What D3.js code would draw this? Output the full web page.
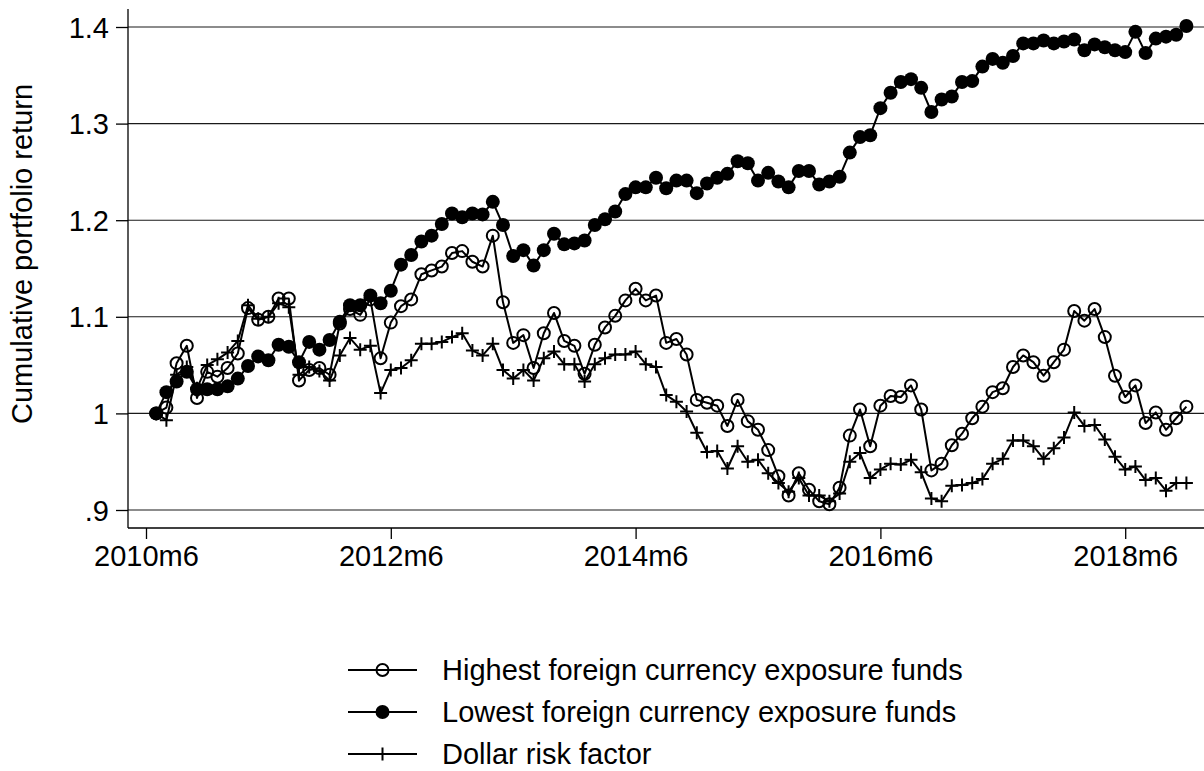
<!DOCTYPE html>
<html><head><meta charset="utf-8">
<script src="https://cdn.jsdelivr.net/npm/d3@7"></script>
<style>
html,body{margin:0;padding:0;background:#fff;}
svg{display:block;}
text{font-family:"Liberation Sans",Arial,sans-serif;fill:#000;}
</style></head>
<body><svg id="chart" width="1204" height="771"></svg>
<script>
// months since 2010m6 (1 = 2010m7 ... 102 = 2018m12)
const startMonth = 1, nMonths = 102;
const months = d3.range(startMonth, startMonth + nMonths);
const xTickMonths = [0, 24, 48, 72, 96];
const xTickLabels = ["2010m6", "2012m6", "2014m6", "2016m6", "2018m6"];
const yTicks = [0.9, 1.0, 1.1, 1.2, 1.3, 1.4];
const yTickLabels = [".9", "1", "1.1", "1.2", "1.3", "1.4"];
const seriesNames = ["Highest foreign currency exposure funds", "Lowest foreign currency exposure funds", "Dollar risk factor"];

const highest = [1.000,1.006,1.052,1.070,1.016,1.043,1.038,1.047,1.062,1.109,
1.097,1.100,1.119,1.119,1.034,1.045,1.047,1.040,1.093,1.108,
1.102,1.118,1.057,1.094,1.111,1.118,1.144,1.148,1.152,1.166,
1.168,1.157,1.152,1.184,1.115,1.073,1.081,1.047,1.083,1.104,
1.075,1.070,1.041,1.071,1.089,1.101,1.117,1.129,1.117,1.122,
1.073,1.077,1.061,1.014,1.011,1.008,0.987,1.014,0.992,0.983,
0.962,0.935,0.915,0.938,0.921,0.909,0.906,0.923,0.977,1.004,
0.966,1.008,1.018,1.017,1.029,1.004,0.941,0.948,0.967,0.979,
0.995,1.007,1.022,1.026,1.048,1.060,1.053,1.039,1.053,1.066,
1.106,1.096,1.108,1.079,1.039,1.017,1.029,0.990,1.001,0.983,
0.995,1.007];
const lowest = [1.000,1.022,1.033,1.043,1.025,1.025,1.025,1.028,1.036,1.049,
1.059,1.055,1.071,1.069,1.053,1.074,1.066,1.076,1.095,1.112,
1.112,1.122,1.114,1.127,1.154,1.164,1.178,1.184,1.196,1.207,
1.203,1.207,1.206,1.219,1.195,1.163,1.169,1.153,1.169,1.186,
1.175,1.176,1.179,1.195,1.201,1.209,1.227,1.234,1.234,1.244,
1.233,1.241,1.241,1.228,1.238,1.244,1.248,1.261,1.259,1.241,
1.249,1.240,1.234,1.251,1.251,1.237,1.240,1.245,1.270,1.286,
1.288,1.316,1.332,1.343,1.346,1.337,1.312,1.325,1.328,1.343,
1.344,1.359,1.367,1.363,1.370,1.383,1.383,1.386,1.383,1.385,
1.387,1.376,1.382,1.379,1.376,1.374,1.395,1.373,1.388,1.390,
1.392,1.401];
const dollar = [1.000,0.993,1.040,1.048,1.026,1.050,1.056,1.063,1.075,1.112,
1.098,1.100,1.114,1.110,1.040,1.048,1.044,1.034,1.060,1.078,
1.066,1.070,1.021,1.045,1.047,1.055,1.072,1.072,1.074,1.079,
1.083,1.065,1.060,1.072,1.045,1.036,1.045,1.034,1.057,1.064,
1.051,1.051,1.033,1.051,1.057,1.061,1.061,1.064,1.051,1.048,
1.019,1.012,1.002,0.980,0.960,0.961,0.943,0.966,0.950,0.952,
0.938,0.928,0.919,0.933,0.915,0.915,0.909,0.917,0.950,0.959,
0.933,0.942,0.948,0.947,0.952,0.939,0.912,0.909,0.925,0.926,
0.928,0.932,0.948,0.953,0.972,0.972,0.966,0.953,0.964,0.975,
1.001,0.987,0.988,0.973,0.955,0.942,0.945,0.931,0.933,0.920,
0.928,0.928];

const svg = d3.select("#chart");
svg.append("rect").attr("width",1204).attr("height",771).attr("fill","#fff");

const plotL = 128, plotR = 1204, plotT = 9, plotB = 528;
const FS = 29;
const x = d3.scaleLinear().domain([0, 96]).range([146, 1125.2]);
const y = d3.scaleLinear().domain([0.9, 1.4]).range([510, 27]);

// gridlines
svg.append("g").selectAll("line").data(yTicks).join("line")
  .attr("x1", plotL).attr("x2", plotR)
  .attr("y1", d => y(d)).attr("y2", d => y(d))
  .attr("stroke", "#1a1a1a").attr("stroke-width", 1.1);

// y axis
const yAxis = d3.axisLeft(y).tickValues(yTicks).tickSize(12).tickPadding(7)
  .tickFormat((d,i) => yTickLabels[i]);
const gy = svg.append("g").attr("transform", `translate(${plotL},0)`).call(yAxis);
gy.select(".domain").remove();
gy.selectAll(".tick line").attr("stroke","#000").attr("stroke-width",1.3);
gy.selectAll(".tick text").attr("font-size", FS).attr("fill","#000")
  .attr("font-family","Liberation Sans, Arial, sans-serif").attr("dy","0.35em");
svg.append("line").attr("x1",plotL).attr("x2",plotL).attr("y1",plotT).attr("y2",plotB)
  .attr("stroke","#000").attr("stroke-width",1.3);

// x axis
const xAxis = d3.axisBottom(x).tickValues(xTickMonths).tickSize(11).tickPadding(6)
  .tickFormat((d,i) => xTickLabels[i]);
const gx = svg.append("g").attr("transform", `translate(0,${plotB})`).call(xAxis);
gx.select(".domain").remove();
gx.selectAll(".tick line").attr("stroke","#000").attr("stroke-width",1.3);
gx.selectAll(".tick text").attr("font-size", FS).attr("fill","#000")
  .attr("font-family","Liberation Sans, Arial, sans-serif").attr("dy","0.71em");
svg.append("line").attr("x1",plotL).attr("x2",plotR).attr("y1",plotB).attr("y2",plotB)
  .attr("stroke","#000").attr("stroke-width",1.3);

// y title
svg.append("text").attr("transform","translate(32,254) rotate(-90)")
  .attr("text-anchor","middle").attr("font-size",FS).text("Cumulative portfolio return");

svg.append("clipPath").attr("id","clip").append("rect")
  .attr("x",plotL).attr("y",0).attr("width",plotR-plotL).attr("height",plotB);
const plot = svg.append("g").attr("clip-path","url(#clip)");

const line = d3.line().x((d,i) => x(months[i])).y(d => y(d));
const LW = 2;
const RC = 6, RD = 7, PH = 6.5;

function drawMarker(g, type, cx, cy) {
  if (type === "o") g.append("circle").attr("cx",cx).attr("cy",cy).attr("r",RC)
      .attr("fill","none").attr("stroke","#000").attr("stroke-width",2);
  else if (type === "dot") g.append("circle").attr("cx",cx).attr("cy",cy).attr("r",RD).attr("fill","#000");
  else g.append("path").attr("d",`M${cx-PH},${cy}H${cx+PH}M${cx},${cy-PH}V${cy+PH}`)
      .attr("stroke","#000").attr("stroke-width",2).attr("fill","none");
}

const series = [[highest,"o"],[lowest,"dot"],[dollar,"+"]];
series.forEach(([vals,type]) => {
  plot.append("path").datum(vals).attr("d", line).attr("fill","none")
    .attr("stroke","#000").attr("stroke-width",LW).attr("stroke-linejoin","round");
  const g = plot.append("g");
  vals.forEach((v,i) => drawMarker(g, type, x(months[i]), y(v)));
});

// legend
const legY = [670, 712, 754];
const lg = svg.append("g");
series.forEach(([vals,type], i) => {
  lg.append("line").attr("x1",348).attr("x2",417).attr("y1",legY[i]).attr("y2",legY[i])
    .attr("stroke","#000").attr("stroke-width",LW);
  drawMarker(lg, type, 382.5, legY[i]);
  lg.append("text").attr("x",442).attr("y",legY[i]).attr("dy","0.35em")
    .attr("font-size",FS).text(seriesNames[i]);
});
</script></body></html>
